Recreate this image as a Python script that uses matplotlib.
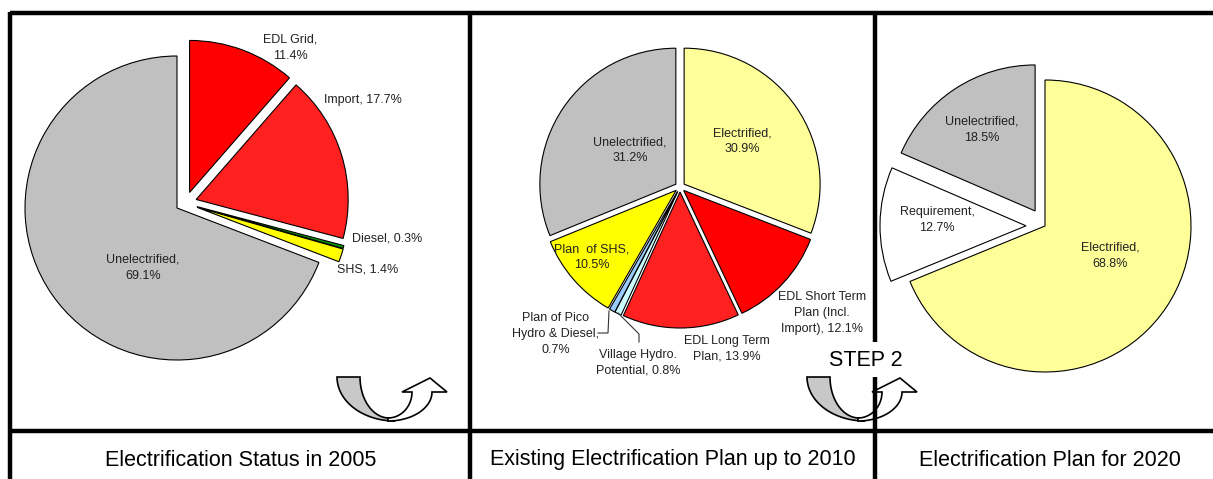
import numpy as np
import matplotlib.pyplot as plt
from matplotlib.patches import Polygon

W, H = 1213, 479

# Datos: estado 2005
p1_nombres = ['Unelectrified', 'SHS', 'Diesel', 'Import', 'EDL Grid']
p1_valores = [69.1, 1.4, 0.3, 17.7, 11.4]
p1_colores = ['#C0C0C0', '#FFFF00', '#00A000', '#FF2020', '#FF0000']
p1_sep = [',\n', ', ', ', ', ', ', ',\n']

# Datos: plan existente hasta 2010 (sentido horario desde las 12)
p2_nombres = ['Electrified', 'EDL Short Term\nPlan (Incl.\nImport)', 'EDL Long Term\nPlan',
              'Village Hydro.\nPotential', 'Plan of Pico\nHydro & Diesel', 'Plan  of SHS', 'Unelectrified']
p2_valores = [30.9, 12.1, 13.9, 0.8, 0.7, 10.5, 31.2]
p2_colores = ['#FFFF99', '#FF0000', '#FF2020', '#CCFFFF', '#99CCFF', '#FFFF00', '#C0C0C0']
p2_sep = [',\n', ', ', ', ', ', ', ',\n', ',\n', ',\n']

# Datos: plan 2020 (sentido horario desde las 12)
p3_nombres = ['Electrified', 'Requirement', 'Unelectrified']
p3_valores = [68.8, 12.7, 18.5]
p3_colores = ['#FFFF99', '#FFFFFF', '#C0C0C0']
p3_sep = [',\n', ',\n', ',\n']

titulos = ['Electrification Status in 2005', 'Existing Electrification Plan up to 2010',
           'Electrification Plan for 2020']

plt.rcParams['font.family'] = ['Liberation Sans', 'DejaVu Sans']

fig = plt.figure(figsize=(W / 100, H / 100), dpi=100)
ax = fig.add_axes([0, 0, 1, 1])


def Y(y):
    return H - y


def pastel(valores, colores, centro, radio, explode, counterclock):
    cuñas = ax.pie(valores, colors=colores, center=(centro[0], Y(centro[1])), radius=radio,
                   explode=explode, startangle=90, counterclock=counterclock, frame=True,
                   wedgeprops=dict(edgecolor='black', linewidth=0.8))[0]
    return cuñas


def etiquetas(nombres, valores, sep, posiciones, fs=9, ls=1.55):
    for n, v, s, (x, y) in zip(nombres, valores, sep, posiciones):
        ax.text(x, Y(y), f'{n}{s}{v}%', ha='center', va='center', fontsize=fs,
                color='#222222', linespacing=ls, zorder=5)


# Pastel 1 (separación con dirección propia, como en el original)
c1 = (177, 208)
cuñas1 = pastel(p1_valores, p1_colores, c1, 152, None, True)
sep_dist = [0, 20, 20, 21, 20]
sep_ang = [0, 2, 4, 24, 51]
for w, d, a in zip(cuñas1, sep_dist, sep_ang):
    w.set_center((c1[0] + d * np.cos(np.radians(a)), Y(c1[1]) + d * np.sin(np.radians(a))))
etiquetas(p1_nombres, p1_valores, p1_sep,
          [(143, 268), (368, 270), (387, 238), (363, 100), (290, 48)])

# Pastel 2
pastel(p2_valores, p2_colores, (680, 187), 136, [5, 5, 5, 5, 5, 5, 5], False)
etiquetas(p2_nombres, p2_valores, p2_sep,
          [(742, 141), (822, 313), (727, 349), (638, 363), (556, 334), (592, 257), (630, 150)],
          ls=1.4)
# líneas guía
ax.plot([598, 608, 609], [Y(333), Y(333), Y(311)], color='#333333', lw=0.8)
ax.plot([639, 639, 618], [Y(342), Y(334), Y(313)], color='#333333', lw=0.8)

# Pastel 3
pastel(p3_valores, p3_colores, (1045, 226), 146, [0, 19, 18], False)
etiquetas(p3_nombres, p3_valores, p3_sep, [(1110, 256), (937, 220), (982, 130)])

# Títulos
for x, t in zip([241, 673, 1050], titulos):
    ax.text(x, Y(460), t, ha='center', va='center', fontsize=15.5, color='black')


# Flechas en U
def flecha(dx):
    t = np.linspace(np.pi, np.pi / 2, 30)
    ext = np.c_[395 + 58 * np.cos(t), 377 + 44 * np.sin(t)]
    t2 = np.linspace(np.pi / 2, np.pi, 30)
    inn = np.c_[389 + 29 * np.cos(t2), 377 + 41 * np.sin(t2)]
    gris = np.vstack([ext, inn])
    t3 = np.linspace(np.pi / 2, 0, 30)
    a = np.c_[388 + 24 * np.cos(t3), 392 + 26 * np.sin(t3)]
    t4 = np.linspace(0, np.pi / 2, 30)
    b = np.c_[388 + 44 * np.cos(t4), 392 + 29 * np.sin(t4)]
    cabeza = np.array([[402, 392], [430, 378], [447, 392]])
    blanco = np.vstack([a, cabeza, b])
    for pts, col in [(gris, '#C8C8C8'), (blanco, 'white')]:
        pts = pts.copy()
        pts[:, 0] += dx
        pts[:, 1] = H - pts[:, 1]
        ax.add_patch(Polygon(pts, closed=True, facecolor=col, edgecolor='black', lw=1.2, zorder=3))


flecha(0)
flecha(470)

# Marco de la tabla
k = dict(color='black', lw=3.2, solid_capstyle='butt', zorder=4)
ax.plot([10, W], [Y(13), Y(13)], **k)
ax.plot([10, W], [Y(431), Y(431)], **k)
ax.plot([10, 10], [Y(12), Y(H)], **k)
ax.plot([470, 470], [Y(12), Y(H)], **k)
ax.plot([875, 875], [Y(12), Y(342)], **k)
ax.plot([875, 875], [Y(377), Y(H)], **k)

ax.text(866, Y(360), 'STEP 2', ha='center', va='center', fontsize=15.5, color='black')

ax.set_xlim(0, W)
ax.set_ylim(0, H)
ax.axis('off')
plt.savefig('out.png', dpi=100)
